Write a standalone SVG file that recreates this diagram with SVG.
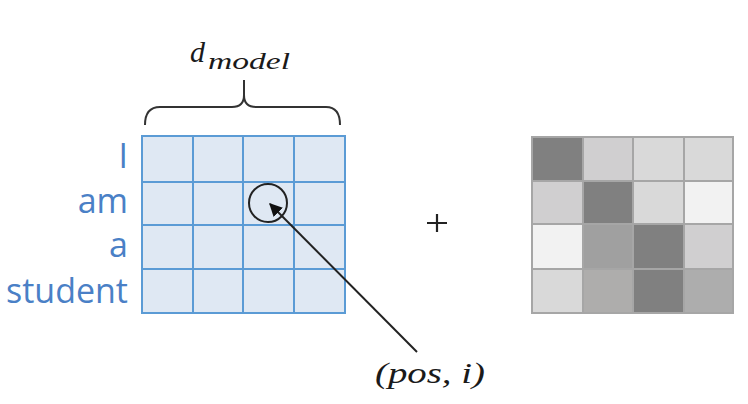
<svg xmlns="http://www.w3.org/2000/svg" width="748" height="404" viewBox="0 0 748 404">
<defs>
<style>
.lbl{font-family:"Open Sans","Noto Sans","DejaVu Sans",sans-serif;font-size:34px;fill:#4a80c6;text-anchor:end}
.math{font-family:"Liberation Serif","DejaVu Serif",serif;font-style:italic;fill:#1a1a1a}
.bcell{fill:#dfe8f3;stroke:#5b9bd5;stroke-width:2}
.gcell{stroke:#a6a6a6;stroke-width:2}
</style>
<marker id="ah" viewBox="0 0 10 10" refX="9" refY="5" markerWidth="6.5" markerHeight="6.5" orient="auto" markerUnits="strokeWidth">
<path d="M0,0 L10,5 L0,10 z" fill="#111"/>
</marker>
</defs>
<rect width="748" height="404" fill="#fff"/>
<g id="dmodel-label">
<text class="math" x="190" y="62" font-size="30">d</text>
<text class="math" x="208" y="69" font-size="24" textLength="82" lengthAdjust="spacingAndGlyphs">model</text>
</g>
<g id="brace">
<path d="M145,125 Q145,107 160,107 L232,107 Q244,107 244,95 L244,80 M244,80 L244,95 Q244,107 256,107 L326,107 Q340,107 340,125" fill="none" stroke="#333" stroke-width="2"/>
</g>
<g id="labels">
<text class="lbl" x="128" y="168">I</text>
<text class="lbl" x="128" y="213">am</text>
<text class="lbl" x="128" y="257">a</text>
<text class="lbl" x="128" y="303">student</text>
</g>
<g id="embedding-matrix">
<rect class="bcell" x="142" y="136" width="203" height="177"/>
<path d="M193,136V313 M243,136V313 M294,136V313 M142,182H345 M142,225H345 M142,269H345" stroke="#5b9bd5" stroke-width="2" fill="none"/>
</g>
<g id="plus">
<path d="M427,223H447 M437,214V232" stroke="#222" stroke-width="2.2"/>
</g>
<g id="positional-matrix">
<rect class="gcell" x="532" y="137" width="51" height="44" fill="#808080"/>
<rect class="gcell" x="583" y="137" width="50" height="44" fill="#d0cfd0"/>
<rect class="gcell" x="633" y="137" width="51" height="44" fill="#d9d9d9"/>
<rect class="gcell" x="684" y="137" width="49" height="44" fill="#d9d9d9"/>
<rect class="gcell" x="532" y="181" width="51" height="43" fill="#d0cfd0"/>
<rect class="gcell" x="583" y="181" width="50" height="43" fill="#808080"/>
<rect class="gcell" x="633" y="181" width="51" height="43" fill="#d9d9d9"/>
<rect class="gcell" x="684" y="181" width="49" height="43" fill="#f2f2f2"/>
<rect class="gcell" x="532" y="224" width="51" height="45" fill="#f2f2f2"/>
<rect class="gcell" x="583" y="224" width="50" height="45" fill="#a0a0a0"/>
<rect class="gcell" x="633" y="224" width="51" height="45" fill="#808080"/>
<rect class="gcell" x="684" y="224" width="49" height="45" fill="#d0cfd0"/>
<rect class="gcell" x="532" y="269" width="51" height="44" fill="#d9d9d9"/>
<rect class="gcell" x="583" y="269" width="50" height="44" fill="#aeadac"/>
<rect class="gcell" x="633" y="269" width="51" height="44" fill="#808080"/>
<rect class="gcell" x="684" y="269" width="49" height="44" fill="#adadad"/>
</g>
<g id="pos-i-marker">
<circle cx="268" cy="203" r="19" fill="none" stroke="#222" stroke-width="2"/>
</g>
<g id="pos-i-label">
<text class="math" x="375" y="383" font-size="30" textLength="110" lengthAdjust="spacingAndGlyphs">(pos, i)</text>
</g>
<g id="connectors">
<line x1="417" y1="352" x2="270" y2="204" stroke="#222" stroke-width="2" marker-end="url(#ah)"/>
</g>
</svg>
